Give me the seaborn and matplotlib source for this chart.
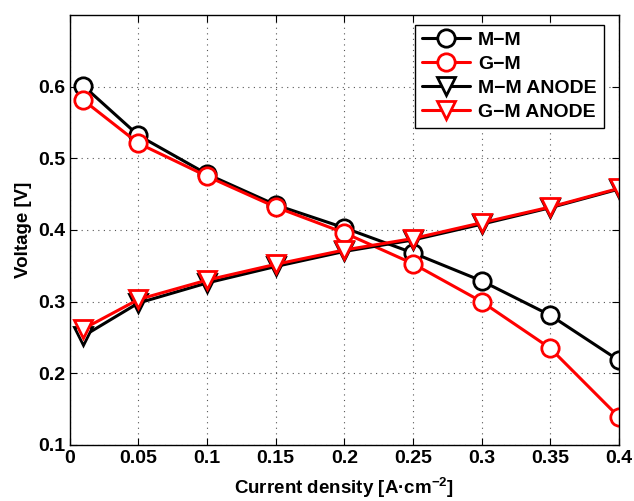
import matplotlib
matplotlib.use("Agg")
import matplotlib.pyplot as plt
import pandas as pd
import seaborn as sns

current = [0.01, 0.05, 0.1, 0.15, 0.2, 0.25, 0.3, 0.35, 0.4]
mm = [0.601, 0.532, 0.478, 0.435, 0.403, 0.368, 0.329, 0.281, 0.218]
gm = [0.581, 0.521, 0.475, 0.432, 0.396, 0.353, 0.300, 0.235, 0.139]
mm_anode = [0.252, 0.298, 0.326, 0.349, 0.370, 0.386, 0.408, 0.431, 0.457]
gm_anode = [0.262, 0.303, 0.330, 0.352, 0.372, 0.388, 0.410, 0.432, 0.458]

xticks = [0, 0.05, 0.1, 0.15, 0.2, 0.25, 0.3, 0.35, 0.4]
xticklabels = ["0", "0.05", "0.1", "0.15", "0.2", "0.25", "0.3", "0.35", "0.4"]
yticks = [0.1, 0.2, 0.3, 0.4, 0.5, 0.6]
yticklabels = ["0.1", "0.2", "0.3", "0.4", "0.5", "0.6"]

series = {"M\u2212M": (mm, "black", "o"),
          "G\u2212M": (gm, "red", "o"),
          "M\u2212M ANODE": (mm_anode, "black", "v"),
          "G\u2212M ANODE": (gm_anode, "red", "v")}

sns.set_style("ticks")
plt.rcParams['font.family'] = ['Liberation Sans', 'DejaVu Sans']
plt.rcParams['font.weight'] = 'bold'
plt.rcParams['mathtext.fontset'] = 'custom'
plt.rcParams['mathtext.rm'] = 'Liberation Sans:bold'
plt.rcParams['mathtext.default'] = 'rm'
for key in ['text.color', 'axes.labelcolor', 'xtick.color', 'ytick.color', 'axes.edgecolor']:
    plt.rcParams[key] = 'black'

fig = plt.figure(figsize=(6.34, 5.01), dpi=100)
ax = fig.add_axes([0.110, 0.112, 0.866, 0.858])

for name, (vals, col, mk) in series.items():
    df = pd.DataFrame({"x": current, "y": vals})
    sns.lineplot(data=df, x="x", y="y", ax=ax, color=col, marker=mk,
                 markersize=12.5, markerfacecolor="white", markeredgecolor=col,
                 markeredgewidth=2, linewidth=2.2, label=name)

ax.set_xlim(0, 0.4)
ax.set_ylim(0.1, 0.7)
ax.set_xticks(xticks)
ax.set_xticklabels(xticklabels)
ax.set_yticks(yticks)
ax.set_yticklabels(yticklabels)
ax.tick_params(direction="in", labelsize=14, length=5, width=0.8,
               top=True, right=True, colors="black")
for lab in ax.get_xticklabels() + ax.get_yticklabels():
    lab.set_fontweight("bold")
ax.grid(True, linestyle=(0, (1, 4)), color="#555555", linewidth=0.8)
for sp in ax.spines.values():
    sp.set_linewidth(1.0)
    sp.set_color("black")

ax.set_xlabel("Current density [A\u00b7cm$^{\u22122}$]", fontsize=13.5, fontweight="bold", labelpad=6.5)
ax.set_ylabel("Voltage [V]", fontsize=13.5, fontweight="bold", labelpad=4)

leg = ax.legend(loc="upper right", fontsize=14, frameon=True, fancybox=False,
                edgecolor="black", framealpha=1, handlelength=2.5,
                handletextpad=0.4, borderaxespad=0.5, borderpad=0.35,
                labelspacing=0.33, bbox_to_anchor=(0.99, 1.0))
leg.get_frame().set_linewidth(1.0)
for t in leg.get_texts():
    t.set_fontweight("bold")

fig.savefig("out.png", dpi=100)
